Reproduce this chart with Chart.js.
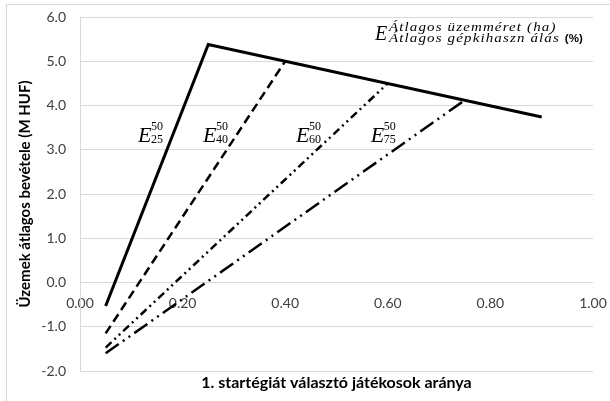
<!DOCTYPE html>
<html>
<head>
<meta charset="utf-8">
<script src="https://cdn.jsdelivr.net/npm/chart.js@4"></script>
<style>
  html, body { margin: 0; padding: 0; background: #fff; }
  #wrap { width: 610px; height: 401px; }
</style>
</head>
<body>
<div id="wrap"><canvas id="myChart" width="610" height="401"></canvas></div>
<script>
// x values: share of players choosing strategy 1
const xE25 = [0.05, 0.25, 0.90];
const yE25 = [-0.53, 5.38, 3.74];
const xE40 = [0.05, 0.40];
const yE40 = [-1.15, 5.00];
const xE60 = [0.05, 0.60];
const yE60 = [-1.47, 4.50];
const xE75 = [0.05, 0.75];
const yE75 = [-1.60, 4.12];

const xTicks = [0, 0.2, 0.4, 0.6, 0.8, 1.0];
const yTicks = [-2, -1, 0, 1, 2, 3, 4, 5, 6];

const toPoints = (xs, ys) => xs.map((x, i) => ({ x: x, y: ys[i] }));

// curve labels: E with super/subscript, anchored in data coords
const labels = [
  { sub: '25', x: 0.113, y: 3.18 },
  { sub: '40', x: 0.240, y: 3.18 },
  { sub: '60', x: 0.421, y: 3.18 },
  { sub: '75', x: 0.567, y: 3.18 }
];

const gridColor = '#d9d9d9';
const textColor = '#404040';

const labelPlugin = {
  id: 'labelPlugin',
  beforeDraw(chart) {
    const c = chart.ctx;
    c.save();
    c.strokeStyle = gridColor;
    c.lineWidth = 1;
    c.beginPath();
    c.moveTo(6.5, 401);
    c.lineTo(6.5, 4.5);
    c.lineTo(610, 4.5);
    c.stroke();
    c.restore();
  },
  afterDatasetsDraw(chart) {
    const c = chart.ctx;
    const sx = chart.scales.x, sy = chart.scales.y;
    c.save();
    c.fillStyle = '#000';
    c.textBaseline = 'alphabetic';
    c.textAlign = 'left';
    labels.forEach(l => {
      const px = sx.getPixelForValue(l.x);
      const py = sy.getPixelForValue(l.y);
      c.font = 'italic 22px "Liberation Serif"';
      c.fillText('E', px, py);
      c.font = '12px "Liberation Serif"';
      c.fillText('50', px + 13, py - 12);
      c.fillText(l.sub, px + 13, py + 1);
    });
    // formula at top right
    const tx = sx.getPixelForValue(0.575);
    const ty = sy.getPixelForValue(5.48);
    c.font = 'italic 20px "Liberation Serif"';
    c.fillText('E', tx, ty);
    c.translate(tx + 14, ty);
    c.scale(1.15, 1);
    c.letterSpacing = '1px';
    c.font = 'italic 13px "Liberation Serif"';
    c.fillText('Átlagos üzemméret (ha)', 0, -9);
    const s = 'Átlagos gépkihaszn álás ';
    c.fillText(s, 0, 2);
    const w = c.measureText(s).width;
    c.letterSpacing = '0px';
    c.font = 'bold 10px "Liberation Sans"';
    c.fillText('(%)', w, 2);
    c.restore();
  }
};

Chart.defaults.font.family = 'Lato';
Chart.defaults.color = textColor;

new Chart(document.getElementById('myChart'), {
  type: 'line',
  data: {
    datasets: [
      { label: 'E25', data: toPoints(xE25, yE25), borderColor: '#000', borderWidth: 3, pointRadius: 0 },
      { label: 'E40', data: toPoints(xE40, yE40), borderColor: '#000', borderWidth: 2.5, borderDash: [9, 5], pointRadius: 0 },
      { label: 'E60', data: toPoints(xE60, yE60), borderColor: '#000', borderWidth: 2.5, borderDash: [8, 4, 2, 4, 2, 4], pointRadius: 0 },
      { label: 'E75', data: toPoints(xE75, yE75), borderColor: '#000', borderWidth: 2.5, borderDash: [16, 5, 2, 5, 2, 5], pointRadius: 0 }
    ]
  },
  options: {
    responsive: false,
    animation: false,
    layout: { padding: { left: 0, right: 17, top: 17, bottom: 0 } },
    plugins: { legend: { display: false }, tooltip: { enabled: false } },
    scales: {
      x: {
        type: 'linear',
        position: { y: 0 },
        min: 0,
        max: 1,
        afterBuildTicks: s => { s.ticks = xTicks.map(v => ({ value: v })); },
        ticks: { padding: 13, font: { size: 14 }, callback: v => v.toFixed(2) },
        grid: { display: false, drawTicks: false },
        border: { display: false },
        afterFit: s => { s.paddingLeft = 0; s.paddingRight = 0; }
      },
      x2: {
        type: 'linear',
        position: 'bottom',
        min: 0,
        max: 1,
        ticks: { display: false },
        grid: { display: false, drawTicks: false },
        border: { display: false },
        title: {
          display: true,
          text: '1. startégiát választó játékosok aránya',
          font: { size: 16, weight: 'bold' },
          color: '#000',
          padding: { top: 0, bottom: 9 }
        },
        afterFit: s => { s.height = 30; s.paddingLeft = 0; s.paddingRight = 0; }
      },
      y: {
        min: -2,
        max: 6,
        afterBuildTicks: s => { s.ticks = yTicks.map(v => ({ value: v })); },
        ticks: { padding: 14, font: { size: 14 }, callback: v => v.toFixed(1) },
        grid: { color: gridColor, drawTicks: false },
        border: { color: gridColor },
        title: {
          display: true,
          text: 'Üzemek átlagos bevétele (M HUF)',
          font: { size: 15, weight: 'bold' },
          color: '#000',
          padding: { top: 16, bottom: 0 }
        },
        afterFit: s => { s.width = 80; s.paddingTop = 0; s.paddingBottom = 0; }
      }
    }
  },
  plugins: [labelPlugin]
});
</script>
</body>
</html>
